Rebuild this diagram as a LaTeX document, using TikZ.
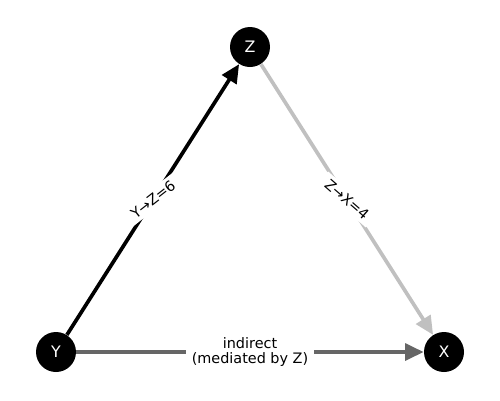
\documentclass[tikz,border=0pt]{standalone}
\usepackage{fontspec}
\setmainfont{DejaVu Sans}
\usetikzlibrary{arrows.meta}
\definecolor{edgedark}{HTML}{000000}
\definecolor{edgemid}{HTML}{666666}
\definecolor{edgelight}{HTML}{C0C0C0}
\begin{document}
\begin{tikzpicture}[x=0.02cm,y=-0.02cm,
  vertex/.style={circle,fill=black,minimum size=0.8cm,inner sep=0pt,
    text=white,font=\fontsize{9}{10}\selectfont},
  link/.style={line width=2.1pt,-{Triangle[length=10.5pt,width=9.5pt]}},
  tag/.style={fill=white,inner xsep=3.5pt,inner ysep=2pt,font=\fontsize{8.2}{8.8}\selectfont,text=black,align=center}]
  \useasboundingbox (0,0) rectangle (500,400);
  \node[vertex] (Y) at (56,352) {Y};
  \node[vertex] (Z) at (250,47) {Z};
  \node[vertex] (X) at (444,352) {X};
  \draw[link,edgedark] (Y) -- node[tag,rotate=38] {Y→Z=6} (Z);
  \draw[link,edgelight] (Z) -- node[tag,rotate=-41] {Z→X=4} (X);
  \draw[link,edgemid] (Y) -- node[tag] {indirect\\(mediated by Z)} (X);
\end{tikzpicture}
\end{document}
